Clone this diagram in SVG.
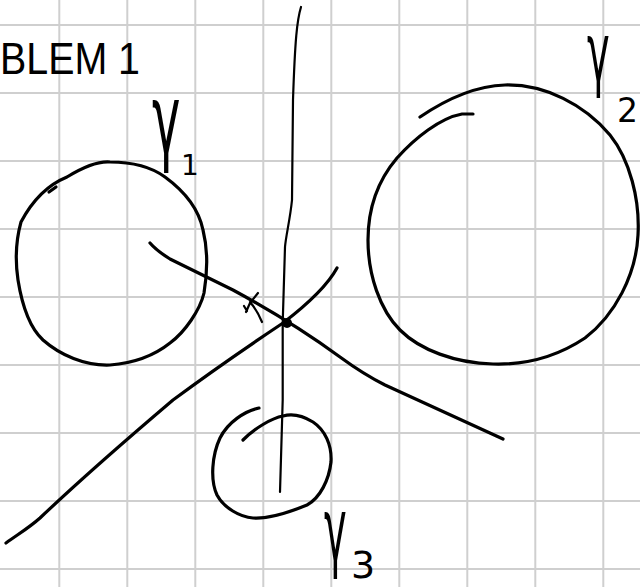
<svg xmlns="http://www.w3.org/2000/svg" width="640" height="587" viewBox="0 0 640 587">
<style>
.grid line{stroke:#cfcfcf;stroke-width:2}
.ink{fill:none;stroke:#000;stroke-width:3.2;stroke-linecap:round;stroke-linejoin:round}
.thin{fill:none;stroke:#000;stroke-width:2.2;stroke-linecap:round;stroke-linejoin:round}
.lbl{font-family:"DejaVu Sans",sans-serif;fill:#000}
.title{font-family:"Liberation Sans",Arial,sans-serif;fill:#000}
</style>
<rect width="640" height="587" fill="#fff"/>
<g class="grid" id="grid">
<line x1="59.3" y1="0" x2="59.3" y2="587"/>
<line x1="127.3" y1="0" x2="127.3" y2="587"/>
<line x1="195.3" y1="0" x2="195.3" y2="587"/>
<line x1="263.3" y1="0" x2="263.3" y2="587"/>
<line x1="331.3" y1="0" x2="331.3" y2="587"/>
<line x1="399.3" y1="0" x2="399.3" y2="587"/>
<line x1="467.3" y1="0" x2="467.3" y2="587"/>
<line x1="535.3" y1="0" x2="535.3" y2="587"/>
<line x1="603.3" y1="0" x2="603.3" y2="587"/>
<line x1="0" y1="25" x2="640" y2="25"/>
<line x1="0" y1="93" x2="640" y2="93"/>
<line x1="0" y1="161" x2="640" y2="161"/>
<line x1="0" y1="229" x2="640" y2="229"/>
<line x1="0" y1="297" x2="640" y2="297"/>
<line x1="0" y1="365" x2="640" y2="365"/>
<line x1="0" y1="433" x2="640" y2="433"/>
<line x1="0" y1="501" x2="640" y2="501"/>
<line x1="0" y1="569" x2="640" y2="569"/>
</g>
<g id="title">
<text class="title" x="0" y="74" font-size="44" textLength="140" lengthAdjust="spacingAndGlyphs">BLEM 1</text>
</g>
<g id="gamma1">
<path class="ink" d="M21,222 C30,205 45,186 67,177 C85,166 98,161 110,162 C130,162 150,166 165,177 C180,188 198,205 203,230 C208,250 207,275 204,293 C200,310 185,332 170,343 C155,355 135,363 110,365 C85,366 60,355 43,340 C30,328 22,305 18,280 C15,260 16,240 21,222"/>
<path class="ink" d="M49,192 L56,187"/>
<text class="lbl" font-size="64" transform="translate(152,152.5) scale(0.75,1.5)">γ</text>
<text class="lbl" x="181" y="175" font-size="28">1</text>
</g>
<g id="gamma2">
<path class="ink" d="M420,117 C445,100 475,86 505,85 C545,84 585,105 610,135 C630,160 640,200 638,235 C636,275 615,315 585,338 C555,358 525,365 493,364 C455,363 420,350 400,330 C380,310 368,275 368,240 C368,205 380,178 397,158 C415,138 440,118 462,114 L473,114"/>
<text class="lbl" font-size="60" transform="translate(587,81) scale(0.64,1.35)">γ</text>
<text class="lbl" x="617" y="122" font-size="33">2</text>
</g>
<g id="gamma3">
<path class="ink" d="M259,408 C245,411 228,422 220,438 C212,455 210,480 217,495 C224,508 240,517 253,518 C268,519 290,512 307,505 C320,498 329,480 331,462 C332,445 325,430 313,422 C300,414 290,414 283,416 C272,418 255,428 243,440"/>
<text class="lbl" font-size="64" transform="translate(324,560) scale(0.6,1.4)">γ</text>
<text class="lbl" x="351" y="578" font-size="38">3</text>
</g>
<g id="connectors">
<path class="thin" d="M301,7 C297,20 295,40 293,100 L292,200 C290,220 286,235 285,247 L282.7,323 L282.7,400 L280,492"/>
<path class="ink" d="M150,243 C156,250 162,254 170,259 L233,290 C270,310 310,335 340,357 C355,368 365,375 385,385 L503,439"/>
<path class="ink" d="M6,543 C20,533 30,527 40,518 C80,480 120,445 173,400 C200,380 250,345 283,323 C300,310 325,290 337,268"/>
<circle cx="287" cy="323" r="5" fill="#000"/>
<path class="thin" d="M258,293 L250,303 L246,312 M244,306 L247,311 M250,302 Q257,310 262,322"/>
</g>
</svg>
